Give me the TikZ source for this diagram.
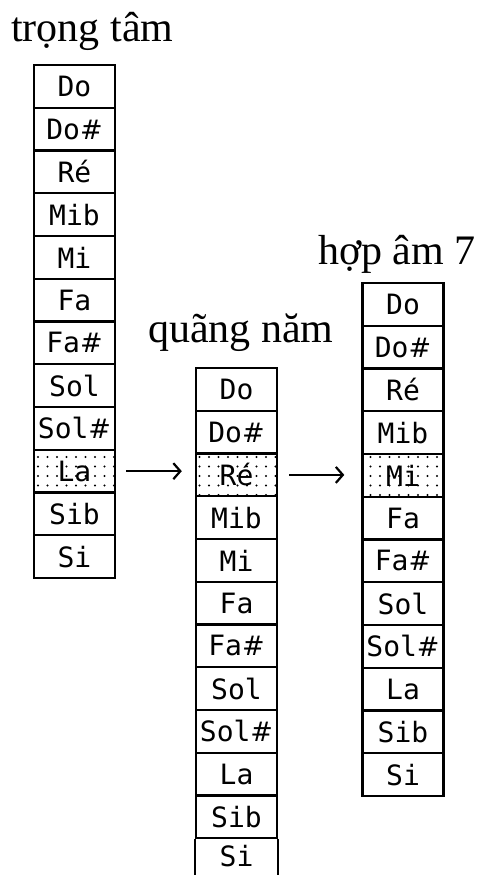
\documentclass[tikz,border=0pt]{standalone}
\usepackage{fontspec}
\setmainfont{Liberation Serif}
\newfontfamily\cellfont{DejaVu Sans Mono}
\newfontfamily\symfont{DejaVu Sans}
\usetikzlibrary{arrows.meta,patterns.meta}
\newcommand{\shp}{{\symfont\fontsize{27}{27}\selectfont\#}}
\begin{document}
\begin{tikzpicture}[x=1pt,y=-1pt,
  cell/.style={draw, line width=2.4pt, minimum width=81pt, minimum height=42.75pt, inner sep=0pt,
    font=\cellfont\fontsize{28}{28}\selectfont},
  hl/.style={pattern={Dots[distance=9.5pt,radius=1.2pt]}, pattern color=black},
  h1-10/.style={hl}, h2-3/.style={hl}, h3-5/.style={hl},
  title/.style={anchor=base west, inner sep=0pt, font=\fontsize{42}{42}\selectfont},
  edge/.style={line width=2.4pt},
  arr/.style={line width=2.2pt, -{Straight Barb[length=7pt,width=16pt]}}]
\useasboundingbox (0,0) rectangle (479,875);
\clip (0,0) rectangle (479,875);
\node[title] (t1) at (11,42) {trọng tâm};
\node[title] (t2) at (148,342) {quãng năm};
\node[title] (t3) at (318,264) {hợp âm 7};
\foreach \n [count=\i] in {Do,Do\shp,Ré,Mib,Mi,Fa,Fa\shp,Sol,Sol\shp,La,Sib,Si}{
  \node[cell, h1-\i/.try] (a\i) at (74.5,{86.4+(\i-1)*42.75}) {\n};
  \node[cell, h3-\i/.try] (c\i) at (403,{304.4+(\i-1)*42.75}) {\n};
}
\foreach \n [count=\i] in {Do,Do\shp,Ré,Mib,Mi,Fa,Fa\shp,Sol,Sol\shp,La,Sib}{
  \node[cell, h2-\i/.try] (b\i) at (236.5,{389.4+(\i-1)*42.75}) {\n};
}
\node[cell, draw=none, minimum height=34pt] (b12) at (236.5,856) {Si};
\draw[edge] (b11.south west) -- (b11.south west |- 0,880);
\draw[edge] (b11.south east) -- (b11.south east |- 0,880);
\draw[arr] ([xshift=10pt]a10.east) -- ([xshift=-13pt]b3.west |- a10.east);
\draw[arr] ([xshift=11pt]b3.east) -- ([xshift=-17pt]c5.west |- b3.east);
\end{tikzpicture}
\end{document}
